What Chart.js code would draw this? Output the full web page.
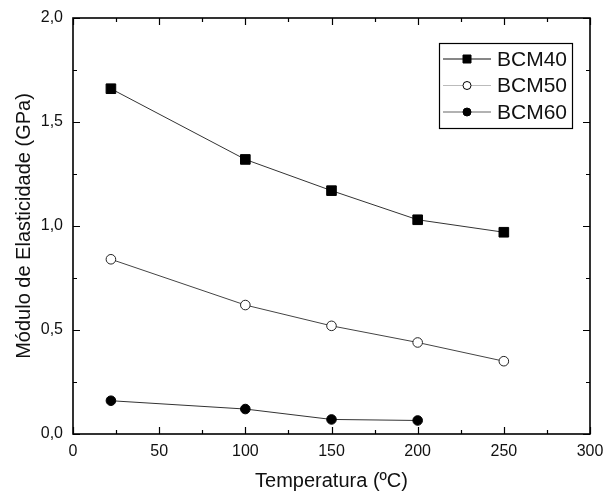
<!DOCTYPE html>
<html>
<head>
<meta charset="utf-8">
<script src="https://cdn.jsdelivr.net/npm/chart.js@4.4.1/dist/chart.umd.min.js"></script>
<style>
    html, body { margin: 0; padding: 0; background: #fff; }
    #wrap { width: 607px; height: 497px; }
</style>
</head>
<body>
<div id="wrap"><canvas id="modulusChart"></canvas></div>
<script>
// Temperatures (ºC) and modulus values (GPa)
const temps = [22, 100, 150, 200, 250];
const bcm40 = [1.66, 1.32, 1.17, 1.03, 0.97];
const bcm50 = [0.84, 0.62, 0.52, 0.44, 0.35];
const bcm60 = [0.16, 0.12, 0.07, 0.065];
const seriesNames = ['BCM40', 'BCM50', 'BCM60'];

const FONT = "'Liberation Sans', Arial, sans-serif";

function toPoints(values) {
    return values.map((v, i) => ({ x: temps[i], y: v }));
}

function commaLabel(value) {
    return Number(value).toFixed(1).replace('.', ',');
}

// Frame with inward major/minor ticks on all four sides
const frameTicks = {
    id: 'frameTicks',
    afterDraw(chart) {
        const { ctx, chartArea: a, scales } = chart;
        const x = scales.x, y = scales.y;
        ctx.save();
        ctx.strokeStyle = '#000';
        ctx.lineWidth = 1.2;
        for (let v = x.min; v <= x.max; v += 25) {
            const px = Math.round(x.getPixelForValue(v)) + 0.5;
            const len = v % 50 === 0 ? 7 : 4;
            ctx.beginPath();
            ctx.moveTo(px, a.bottom); ctx.lineTo(px, a.bottom - len);
            ctx.moveTo(px, a.top); ctx.lineTo(px, a.top + len);
            ctx.stroke();
        }
        for (let v = y.min; v <= y.max + 1e-9; v += 0.25) {
            const py = Math.round(y.getPixelForValue(v)) + 0.5;
            const len = Math.abs(v * 2 - Math.round(v * 2)) < 1e-9 ? 7 : 4;
            ctx.beginPath();
            ctx.moveTo(a.left, py); ctx.lineTo(a.left + len, py);
            ctx.moveTo(a.right, py); ctx.lineTo(a.right - len, py);
            ctx.stroke();
        }
        ctx.lineWidth = 1.6;
        ctx.strokeRect(a.left, a.top, a.right - a.left, a.bottom - a.top);
        ctx.restore();
    }
};

// Boxed legend in the upper right corner of the plot
const boxLegend = {
    id: 'boxLegend',
    afterDraw(chart) {
        const { ctx, chartArea: a } = chart;
        const boxW = 133, boxH = 85;
        const bx = a.right - 18 - boxW, by = a.top + 25;
        ctx.save();
        ctx.fillStyle = '#fff';
        ctx.fillRect(bx, by, boxW, boxH);
        ctx.strokeStyle = '#000';
        ctx.lineWidth = 1.2;
        ctx.strokeRect(bx + 0.5, by + 0.5, boxW, boxH);
        ctx.font = '21px ' + FONT;
        ctx.textBaseline = 'middle';
        chart.data.datasets.forEach((ds, i) => {
            const ry = by + 16 + i * 26.5;
            ctx.strokeStyle = ds.legendLine;
            ctx.lineWidth = 1.2;
            ctx.beginPath();
            ctx.moveTo(bx + 4, ry); ctx.lineTo(bx + 52, ry);
            ctx.stroke();
            ctx.fillStyle = ds.pointBackgroundColor;
            ctx.strokeStyle = '#000';
            ctx.lineWidth = 1;
            ctx.beginPath();
            if (ds.pointStyle === 'rect') {
                ctx.rect(bx + 24, ry - 4, 8, 8);
            } else {
                ctx.arc(bx + 28, ry, 4, 0, Math.PI * 2);
            }
            ctx.fill();
            ctx.stroke();
            ctx.fillStyle = '#111';
            ctx.fillText(seriesNames[i], bx + 58, ry + 1);
        });
        ctx.restore();
    }
};

const chartConfig = {
    type: 'scatter',
    data: {
        datasets: [
            {
                label: seriesNames[0],
                data: toPoints(bcm40),
                showLine: true,
                borderColor: '#333',
                borderWidth: 1,
                pointStyle: 'rect',
                pointRadius: 6.8,
                pointBackgroundColor: '#000',
                pointBorderColor: '#000',
                legendLine: '#111'
            },
            {
                label: seriesNames[1],
                data: toPoints(bcm50),
                showLine: true,
                borderColor: '#444',
                borderWidth: 1,
                pointStyle: 'circle',
                pointRadius: 4.8,
                pointBackgroundColor: '#fff',
                pointBorderColor: '#222',
                pointBorderWidth: 1,
                legendLine: '#bbb'
            },
            {
                label: seriesNames[2],
                data: toPoints(bcm60),
                showLine: true,
                borderColor: '#333',
                borderWidth: 1,
                pointStyle: 'circle',
                pointRadius: 4.8,
                pointBackgroundColor: '#000',
                pointBorderColor: '#000',
                legendLine: '#666'
            }
        ]
    },
    options: {
        responsive: true,
        maintainAspectRatio: false,
        animation: false,
        layout: { padding: { top: 18, right: 17, left: 0, bottom: 0 } },
        plugins: {
            legend: { display: false },
            tooltip: { enabled: false }
        },
        scales: {
            x: {
                type: 'linear',
                min: 0,
                max: 300,
                grid: { display: false, drawTicks: false },
                border: { display: false },
                ticks: {
                    stepSize: 50,
                    padding: 8,
                    color: '#111',
                    font: { family: FONT, size: 16 }
                },
                title: {
                    display: true,
                    text: 'Temperatura (ºC)',
                    color: '#111',
                    font: { family: FONT, size: 20 },
                    padding: { top: 0, bottom: 4 }
                },
                afterFit(scale) {
                    scale.height = 63;
                    scale.paddingLeft = 0;
                    scale.paddingRight = 0;
                }
            },
            y: {
                min: 0,
                max: 2,
                grid: { display: false, drawTicks: false },
                border: { display: false },
                ticks: {
                    stepSize: 0.5,
                    padding: 10,
                    color: '#111',
                    font: { family: FONT, size: 16 },
                    callback: commaLabel
                },
                title: {
                    display: true,
                    text: 'Módulo de Elasticidade (GPa)',
                    color: '#111',
                    font: { family: FONT, size: 20 },
                    padding: { top: 12, bottom: 0 }
                },
                afterFit(scale) {
                    scale.width = 73;
                    scale.paddingTop = 0;
                    scale.paddingBottom = 0;
                }
            }
        }
    },
    plugins: [frameTicks, boxLegend]
};

const ctx = document.getElementById('modulusChart').getContext('2d');
new Chart(ctx, chartConfig);
</script>
</body>
</html>
